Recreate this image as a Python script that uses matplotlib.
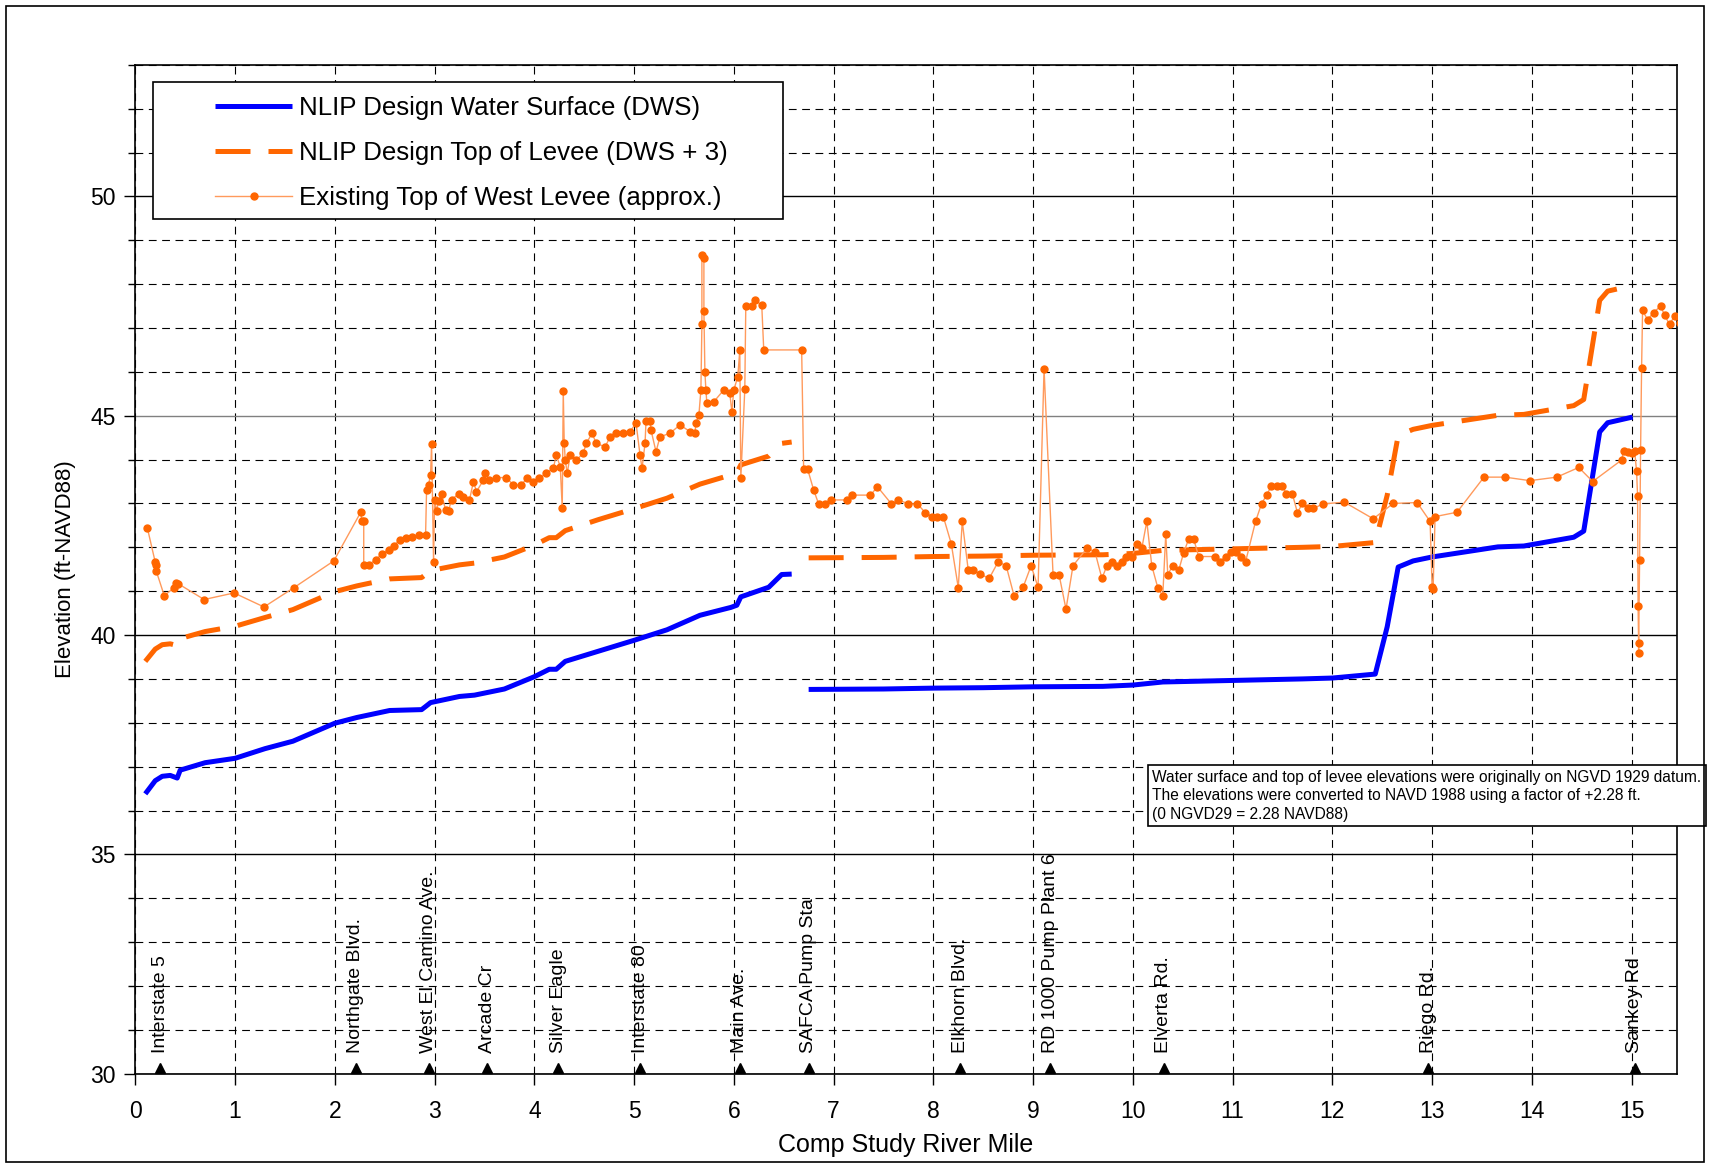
import numpy as np
import matplotlib.pyplot as plt
from matplotlib.patches import Rectangle

plt.rcParams['font.family'] = ['Liberation Sans', 'DejaVu Sans']

# design profile (NaN breaks the line between reaches)
design_mile = [0.10, 0.20, 0.27, 0.35, 0.42, 0.45, 0.70, 1.00, 1.30, 1.58, 2.00, 2.22, 2.55, 2.87, 2.91,
               2.96, 3.25, 3.40, 3.70, 4.00, 4.15, 4.22, 4.31, 4.64, 5.00, 5.33, 5.66, 5.97, 6.03, 6.07,
               6.35, 6.48, 6.58, np.nan, 6.75, 7.50, 8.00, 8.50, 9.00, 9.70, 10.00, 10.30, 10.70, 11.30,
               11.70, 12.00, 12.43, 12.55, 12.66, 12.81, 13.00, 13.66, 13.92, 14.42, 14.52, 14.68, 14.76, 15.01]
dws = [36.38, 36.68, 36.78, 36.80, 36.74, 36.92, 37.09, 37.19, 37.41, 37.58, 37.99, 38.12, 38.28, 38.30, 38.37,
       38.46, 38.60, 38.63, 38.77, 39.05, 39.22, 39.22, 39.40, 39.63, 39.88, 40.12, 40.45, 40.63, 40.68, 40.87,
       41.09, 41.38, 41.39, np.nan, 38.76, 38.77, 38.79, 38.80, 38.82, 38.83, 38.86, 38.93, 38.95, 38.98,
       39.00, 39.02, 39.11, 40.19, 41.55, 41.69, 41.78, 42.01, 42.03, 42.23, 42.37, 44.63, 44.84, 44.97]
design_levee = [39.40, 39.68, 39.78, 39.80, 39.76, 39.92, 40.08, 40.20, 40.40, 40.58, 40.99, 41.12, 41.28, 41.31, 41.38,
                41.47, 41.60, 41.64, 41.78, 42.05, 42.22, 42.22, 42.38, 42.63, 42.88, 43.12, 43.44, 43.65, 43.70, 43.88,
                44.08, 44.37, 44.40, np.nan, 41.76, 41.77, 41.79, 41.80, 41.82, 41.83, 41.86, 41.93, 41.95, 41.98,
                42.00, 42.02, 42.11, 43.19, 44.55, 44.69, 44.78, 45.01, 45.03, 45.23, 45.37, 47.63, 47.84, 47.97]

# existing top of west levee
levee_mile = [0.12, 0.20, 0.21, 0.21, 0.29, 0.39, 0.41, 0.43, 0.69, 0.99, 1.29, 1.59, 1.99, 2.26, 2.27, 2.29, 2.29,
              2.34, 2.41, 2.47, 2.54, 2.59, 2.65, 2.71, 2.77, 2.84, 2.91, 2.92, 2.94, 2.96, 2.97, 2.99, 3.00, 3.02,
              3.04, 3.07, 3.11, 3.14, 3.17, 3.24, 3.29, 3.35, 3.39, 3.42, 3.49, 3.51, 3.55, 3.62, 3.72, 3.79, 3.87,
              3.93, 3.99, 4.05, 4.12, 4.19, 4.22, 4.26, 4.28, 4.29, 4.30, 4.31, 4.33, 4.36, 4.42, 4.49, 4.52, 4.58,
              4.62, 4.71, 4.76, 4.82, 4.89, 4.96, 5.02, 5.06, 5.08, 5.11, 5.12, 5.16, 5.17, 5.22, 5.26, 5.36, 5.46,
              5.56, 5.61, 5.62, 5.65, 5.67, 5.68, 5.68, 5.70, 5.70, 5.71, 5.72, 5.73, 5.80, 5.90, 5.96, 5.98, 6.00,
              6.04, 6.06, 6.07, 6.11, 6.12, 6.18, 6.21, 6.28, 6.30, 6.68, 6.70, 6.74, 6.80, 6.85, 6.91, 6.97, 7.13,
              7.18, 7.37, 7.44, 7.58, 7.65, 7.75, 7.84, 7.92, 7.99, 8.04, 8.10, 8.18, 8.25, 8.29, 8.35, 8.40, 8.47,
              8.56, 8.65, 8.73, 8.81, 8.90, 8.98, 9.05, 9.11, 9.20, 9.26, 9.33, 9.40, 9.54, 9.62, 9.69, 9.74, 9.79,
              9.84, 9.89, 9.93, 9.99, 10.04, 10.09, 10.14, 10.19, 10.25, 10.30, 10.33, 10.35, 10.40, 10.46, 10.51,
              10.56, 10.61, 10.66, 10.82, 10.87, 10.93, 10.98, 11.03, 11.08, 11.13, 11.23, 11.29, 11.34, 11.39,
              11.45, 11.50, 11.54, 11.60, 11.65, 11.70, 11.76, 11.81, 11.91, 12.12, 12.41, 12.61, 12.85, 12.98,
              13.00, 13.01, 13.03, 13.25, 13.52, 13.73, 13.98, 14.25, 14.47, 14.61, 14.90, 14.92, 14.96, 15.00,
              15.03, 15.05, 15.06, 15.065, 15.07, 15.07, 15.08, 15.09, 15.10, 15.11, 15.16, 15.22, 15.29, 15.33,
              15.38, 15.43, 15.49, 15.53]
levee_elev = [42.45, 41.66, 41.60, 41.46, 40.90, 41.08, 41.19, 41.17, 40.81, 40.96, 40.64, 41.08, 41.69, 42.80, 42.61,
              42.60, 41.60, 41.60, 41.72, 41.84, 41.95, 42.03, 42.17, 42.22, 42.24, 42.27, 42.29, 43.31, 43.43, 43.66,
              44.35, 41.66, 43.09, 42.83, 43.05, 43.21, 42.86, 42.83, 43.09, 43.21, 43.15, 43.08, 43.50, 43.27, 43.53,
              43.69, 43.53, 43.59, 43.59, 43.42, 43.42, 43.59, 43.50, 43.57, 43.69, 43.80, 44.10, 43.84, 42.89, 45.57,
              44.37, 43.99, 43.69, 44.10, 43.99, 44.14, 44.37, 44.60, 44.37, 44.29, 44.52, 44.60, 44.60, 44.64, 44.83,
              44.10, 43.80, 44.37, 44.89, 44.89, 44.67, 44.18, 44.52, 44.60, 44.79, 44.64, 44.60, 44.83, 45.02, 45.59,
              47.08, 48.66, 48.59, 47.39, 46.00, 45.59, 45.28, 45.32, 45.59, 45.51, 45.09, 45.59, 45.89, 46.50, 43.57,
              45.60, 47.50, 47.49, 47.64, 47.52, 46.50, 46.50, 43.78, 43.78, 43.31, 42.99, 42.99, 43.08, 43.08, 43.19,
              43.19, 43.38, 42.99, 43.08, 42.99, 42.99, 42.79, 42.70, 42.70, 42.70, 42.08, 41.08, 42.59, 41.48, 41.48,
              41.39, 41.29, 41.67, 41.58, 40.89, 41.09, 41.58, 41.09, 46.07, 41.38, 41.38, 40.59, 41.58, 41.98, 41.90,
              41.29, 41.58, 41.67, 41.58, 41.67, 41.79, 41.79, 42.08, 41.98, 42.59, 41.58, 41.08, 40.89, 42.30, 41.38,
              41.58, 41.48, 41.88, 42.19, 42.19, 41.79, 41.79, 41.67, 41.79, 41.90, 41.90, 41.79, 41.67, 42.59, 42.99,
              43.19, 43.40, 43.40, 43.40, 43.21, 43.21, 42.79, 43.00, 42.89, 42.89, 42.99, 43.03, 42.65, 43.00, 43.02,
              42.59, 41.10, 41.05, 42.70, 42.80, 43.60, 43.60, 43.52, 43.60, 43.82, 43.50, 43.99, 44.20, 44.18, 44.15,
              44.20, 43.73, 43.16, 40.67, 39.82, 39.60, 41.71, 44.21, 46.09, 47.40, 47.19, 47.35, 47.50, 47.30,
              47.08, 47.27, 47.12, 47.15]

landmarks = ['Interstate 5', 'Northgate Blvd.', 'West El Camino Ave.', 'Arcade Cr', 'Silver Eagle',
             'Interstate 80', 'Main Ave.', 'SAFCA Pump Sta', 'Elkhorn Blvd.', 'RD 1000 Pump Plant 6',
             'Elverta Rd.', 'Riego Rd.', 'Sankey Rd']
landmark_mile = [0.25, 2.21, 2.94, 3.53, 4.24, 5.06, 6.06, 6.75, 8.27, 9.17, 10.31, 12.96, 15.03]

note = ('Water surface and top of levee elevations were originally on NGVD 1929 datum.\n'
        'The elevations were converted to NAVD 1988 using a factor of +2.28 ft.\n'
        '(0 NGVD29 = 2.28 NAVD88)')

W, H = 1711, 1163
fig = plt.figure(figsize=(W / 100, H / 100), dpi=100)
ax = fig.add_axes([135.3 / W, 1 - 1073.7 / H, (1676.5 - 135.3) / W, (1073.7 - 64.8) / H])

ax.plot(design_mile, dws, color='#0000ff', lw=3.6, solid_capstyle='butt',
        label='NLIP Design Water Surface (DWS)', zorder=3)
ax.plot(design_mile, design_levee, color='#ff6600', lw=3.6, dashes=(7, 3.6),
        label='NLIP Design Top of Levee (DWS + 3)', zorder=3)
ax.plot(levee_mile, levee_elev, color='#ff9a5c', lw=1.0, marker='o', ms=5,
        mfc='#ff6600', mec='#ff6600', label='Existing Top of West Levee (approx.)', zorder=4)

ax.plot(landmark_mile, [30.12] * len(landmark_mile), ls='none', marker='^', ms=7,
        color='black', clip_on=False, zorder=5)
for name, m in zip(landmarks, landmark_mile):
    ax.text(m, 30.47, name, rotation=90, ha='center', va='bottom', fontsize=14, zorder=5)

ax.set_xlim(0, 15.45)
ax.set_ylim(30, 53)
ax.set_xticks(np.arange(0, 16, 1))
ax.set_yticks(np.arange(30, 51, 5))
ax.set_yticks(np.arange(30, 54, 1), minor=True)
ax.tick_params(axis='both', which='major', direction='out', length=8, width=1, labelsize=16.5)
ax.tick_params(axis='x', which='major', pad=11)
ax.tick_params(axis='y', which='major', pad=6)
ax.tick_params(axis='y', which='minor', direction='out', length=5, width=1)

ax.set_axisbelow(True)
ax.grid(axis='y', which='major', ls='-', color='black', lw=1.0)
ax.grid(axis='y', which='minor', ls=(0, (7, 5)), color='black', lw=0.8)
ax.grid(axis='x', which='major', ls=(0, (7, 5)), color='black', lw=0.8)
ax.get_ygridlines()[3].set_color('#808080')

for s in ax.spines.values():
    s.set_linewidth(1.2)
    s.set_color('black')

ax.set_xlabel('Comp Study River Mile', fontsize=18, labelpad=7)
ax.set_ylabel('Elevation (ft-NAVD88)', fontsize=16, labelpad=10)

# legend box drawn separately (Excel-style padding)
ax.add_patch(Rectangle((153 / W, 1 - 219 / H), 630 / W, 137 / H, transform=fig.transFigure,
                       facecolor='white', edgecolor='black', lw=1.2, zorder=5, clip_on=False))
leg = ax.legend(loc='upper left', bbox_to_anchor=(202 / W, 1 - 83.5 / H), bbox_transform=fig.transFigure,
                frameon=False, borderpad=0, fontsize=18.6, handlelength=3.0, handletextpad=0.25,
                labelspacing=0.8)
leg.set_zorder(6)

ax.text(0.66, 0.3015, note, transform=ax.transAxes, ha='left', va='top', fontsize=11.2, linespacing=1.3,
        zorder=6, clip_on=False,
        bbox=dict(boxstyle='square,pad=0.3', facecolor='white', edgecolor='black', lw=1.2))

# outer chart border
fig.patches.append(Rectangle((6 / W, 1 / H), (1704 - 6) / W, (1157 - 1) / H, transform=fig.transFigure,
                             fill=False, edgecolor='black', lw=1.2))

fig.savefig('out.png', dpi=100)
